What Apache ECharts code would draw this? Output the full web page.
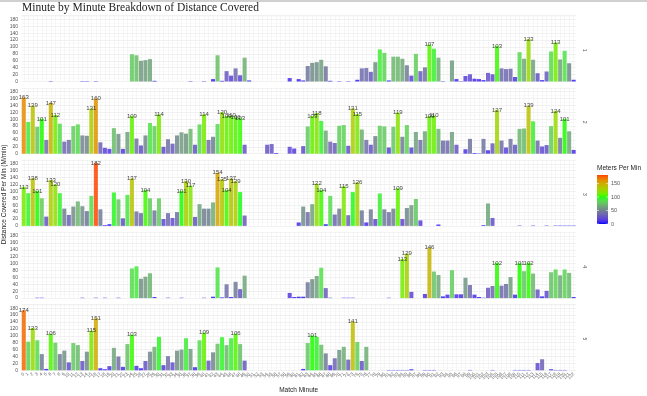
<!DOCTYPE html>
<html><head><meta charset="utf-8">
<script src="https://cdn.jsdelivr.net/npm/echarts@6/dist/echarts.min.js"></script>
<style>html,body{margin:0;padding:0;background:#fff}#c{width:647px;height:396px}</style>
</head><body><div id="c"></div>
<script>
// ---------------- DATA ----------------
const minutes = ['0','1','2','3','4','5','6','7','8','9','10','11','12','13','14','15','16','17','18','19','20','21','22','23','24','25','26','27','28','29','30','31','32','33','34','35','36','37','38','39','40','41','42','43','44','45','46','47','48','49','50','51','52','53','54','55','56','57','58','59','60','61','62','63','64','65','66','67','68','69','70','71','72','73','74','75','76','77','78','79','80','81','82','83','84','85','86','87','88','89','90','91','92','93','94','95','96','97','98','99','100','101','102','103','104','105','106','107','108','109','110','111','112','113','114','115','116','117','118','119','120','121','122'];
const panels = ['1','2','3','4','5'];
const player1 = [0,0,0,0,0,0,1,0,0,0, 0,0,0,1,1,0,1,0,0,0, 0,0,0,0,79,76,60,62,65,2, 0,0,0,0,0,0,0,1,0,0,
  1,0,7,76,2,30,17,38,18,69, 3,0,0,0,0,0,0,0,0,10, 0,7,3,45,54,56,63,44,2,0, 1,0,1,0,5,38,39,28,56,93,
  83,3,72,72,66,47,17,80,30,41, 107,95,69,1,0,61,7,1,16,21, 8,7,4,25,21,103,38,36,37,13, 85,66,123,63,24,4,29,87,113,64, 89,53,5];
const player2 = [163,92,139,78,101,40,147,112,87,35, 40,80,85,53,52,131,160,33,17,14, 74,57,14,63,109,44,24,53,89,80, 114,20,42,29,53,62,58,72,26,85,
  114,40,49,86,120,109,110,106,103,26, 0,0,0,0,26,28,2,0,0,20, 15,0,22,79,109,118,95,67,35,31, 81,83,23,131,115,70,40,26,51,81,
  79,18,78,119,49,83,18,63,40,65, 109,110,72,38,38,63,26,0,13,43, 2,1,43,10,30,127,38,18,43,26, 72,73,139,94,38,21,25,80,124,46, 101,65,11];
const player3 = [113,95,138,101,80,27,133,120,95,50, 32,56,71,57,43,87,182,48,2,5, 97,77,22,90,137,42,37,104,80,45, 80,20,37,23,40,101,130,117,26,63,
  50,50,68,154,135,104,137,129,98,30, 0,0,0,0,0,0,0,0,0,0, 0,10,56,40,63,122,104,5,87,33, 50,115,31,98,126,45,10,48,20,94,
  48,40,50,109,20,52,60,78,16,0, 0,0,4,0,0,0,0,0,0,0, 0,0,2,65,23,0,0,0,0,0, 1,0,0,1,0,0,1,0,1,1, 1,1,1];
const player4 = [0,0,0,1,1,0,0,0,0,0, 0,0,0,1,0,0,1,0,1,0, 0,1,0,0,86,92,56,62,72,3, 0,0,1,0,0,1,0,0,0,0,
  1,0,4,89,2,40,3,47,26,65, 0,0,0,0,0,0,0,0,0,15, 3,4,4,46,55,64,88,29,1,0, 0,1,1,1,0,0,0,0,0,0,
  0,1,0,0,113,129,18,0,0,12, 146,77,67,5,10,81,11,11,59,38, 10,3,1,30,35,102,36,41,61,10, 101,78,102,71,25,5,21,75,83,66, 83,73,3];
const player5 = [174,83,123,87,47,4,106,80,47,57, 23,79,73,27,54,115,151,6,3,12, 65,40,10,76,103,13,6,27,54,68, 97,15,41,23,57,60,93,62,9,87,
  109,28,52,77,96,73,93,106,76,28, 0,0,0,0,0,0,0,0,0,0, 0,0,4,79,101,97,74,49,15,35, 59,68,31,141,82,27,68,0,0,0,
  0,1,1,1,1,1,3,0,0,1, 1,1,0,0,0,0,0,0,0,1, 0,0,0,0,1,0,0,0,0,1, 1,1,1,0,21,32,0,3,1,1, 1,0,0];
const seriesValues = [player1, player2, player3, player4, player5];
const legendTicks = [0, 50, 100, 150];
const labelThreshold = 100;

// ------------- colour scale (Lab interpolation like ggplot) -------------
const fillStops = [0, 50, 100, 150, 182];
const fillColors = ['#0000ff', '#708090', '#00ff00', '#cdad00', '#ff4500'];
function lin(c){c/=255;return c<=0.04045?c/12.92:Math.pow((c+0.055)/1.055,2.4);}
function gam(c){const v=c<=0.0031308?12.92*c:1.055*Math.pow(c,1/2.4)-0.055;return Math.round(Math.max(0,Math.min(1,v))*255);}
function toLab(hex){
  const r=lin(parseInt(hex.substr(1,2),16)),g=lin(parseInt(hex.substr(3,2),16)),b=lin(parseInt(hex.substr(5,2),16));
  const X=(0.4124*r+0.3576*g+0.1805*b)/0.95047,Y=(0.2126*r+0.7152*g+0.0722*b),Z=(0.0193*r+0.1192*g+0.9505*b)/1.08883;
  const f=t=>t>0.008856?Math.cbrt(t):7.787*t+16/116;
  const fx=f(X),fy=f(Y),fz=f(Z);
  return [116*fy-16,500*(fx-fy),200*(fy-fz)];
}
function fromLab(L,a,b){
  const fy=(L+16)/116,fx=fy+a/500,fz=fy-b/200;
  const fi=t=>t*t*t>0.008856?t*t*t:(t-16/116)/7.787;
  const X=fi(fx)*0.95047,Y=fi(fy),Z=fi(fz)*1.08883;
  const R=3.2406*X-1.5372*Y-0.4986*Z,G=-0.9689*X+1.8758*Y+0.0415*Z,B=0.0557*X-0.2040*Y+1.0570*Z;
  return 'rgb('+gam(R)+','+gam(G)+','+gam(B)+')';
}
const labStops = fillColors.map(toLab);
function colorFor(v){
  v=Math.max(fillStops[0],Math.min(fillStops[fillStops.length-1],v));
  let i=0; while(i<fillStops.length-2 && v>fillStops[i+1]) i++;
  const t=(v-fillStops[i])/(fillStops[i+1]-fillStops[i]);
  const A=labStops[i],B=labStops[i+1];
  return fromLab(A[0]+(B[0]-A[0])*t,A[1]+(B[1]-A[1])*t,A[2]+(B[2]-A[2])*t);
}

// ------------- layout -------------
const zero0 = 81.5, pitch = 72.2, ppu = 0.345, yMax = 191;
const gridLeft = 21.5, gridWidth = 554.4;
const sans = 'Liberation Sans, Arial, sans-serif';

const grids = panels.map((p,k)=>({left:gridLeft, width:gridWidth, top: zero0 + k*pitch - yMax*ppu, height: yMax*ppu}));
const xAxes = panels.map((p,k)=>({
  type:'category', gridIndex:k, data:minutes, boundaryGap:true,
  axisLine:{show:false}, axisTick:{show:false},
  splitLine:{show:true, interval:0, alignWithLabel:true, lineStyle:{color:'#ececec', width:0.5}},
  axisLabel: k===panels.length-1 ? {show:true, interval:0, rotate:45, fontSize:4.5, color:'#666', margin:3, fontFamily:sans} : {show:false}
}));
const yAxes = panels.map((p,k)=>({
  type:'value', gridIndex:k, min:0, max:yMax, interval:20,
  axisLine:{show:false}, axisTick:{show:false},
  axisLabel:{fontSize:5, color:'#555', margin:3.5, fontFamily:sans, formatter:v=>v>180?'':String(v)},
  splitLine:{show:true, lineStyle:{color:'#e8e8e8', width:0.6}},
  minorTick:{show:false, splitNumber:2},
  minorSplitLine:{show:true, lineStyle:{color:'#f4f4f4', width:0.5}}
}));
const series = seriesValues.map((vals,k)=>({
  type:'bar', xAxisIndex:k, yAxisIndex:k, data:vals, barCategoryGap:'10%',
  itemStyle:{color:p=>colorFor(p.value), opacity:0.85},
  label:{show:true, position:'top', distance:-3, fontSize:6, color:'#222', fontFamily:sans,
    formatter:p=>p.value>labelThreshold?String(p.value):''},
  emphasis:{disabled:true}, animation:false
}));

// legend graphic
const barTop = 175, barBottom = 224, legMax = 182;
const gradStops = [];
for (let v=0; v<=legMax; v+=7) gradStops.push({offset:1-v/legMax, color:colorFor(v)});
gradStops.push({offset:0, color:colorFor(legMax)});
gradStops.sort((a,b)=>a.offset-b.offset);
const graphics = [
  {type:'line', shape:{x1:0,y1:1,x2:647,y2:1}, style:{stroke:'#d0d0d0', lineWidth:2}},
  {type:'text', x:22, y:7.5, style:{text:'Minute by Minute Breakdown of Distance Covered', font:'11.5px "Liberation Serif", "DejaVu Serif", serif', fill:'#222', verticalAlign:'middle'}},
  {type:'text', x:4, y:194.5, rotation:Math.PI/2, style:{text:'Distance Covered Per Min (M/min)', font:'6.5px '+sans, fill:'#222', align:'center', verticalAlign:'middle'}},
  {type:'text', x:298.7, y:390, style:{text:'Match Minute', font:'6.5px '+sans, fill:'#222', align:'center', verticalAlign:'middle'}},
  {type:'text', x:597, y:168, style:{text:'Meters Per Min', font:'6.5px '+sans, fill:'#222', verticalAlign:'middle'}},
  {type:'rect', shape:{x:597, y:barTop, width:11, height:barBottom-barTop}, style:{fill:new echarts.graphic.LinearGradient(0,0,0,1,gradStops)}}
];
legendTicks.forEach(v=>{
  const y = barBottom - v/legMax*(barBottom-barTop);
  graphics.push({type:'text', x:611, y:y, style:{text:String(v), font:'5.5px '+sans, fill:'#555', verticalAlign:'middle'}});
  graphics.push({type:'line', shape:{x1:597,y1:y,x2:599,y2:y}, style:{stroke:'#fff', lineWidth:0.6}});
  graphics.push({type:'line', shape:{x1:606,y1:y,x2:608,y2:y}, style:{stroke:'#fff', lineWidth:0.6}});
});
panels.forEach((p,k)=>{
  const cy = zero0 + k*pitch - yMax*ppu/2 + 1.5;
  graphics.push({type:'text', x:584, y:cy, rotation:-Math.PI/2, style:{text:p, font:'5px '+sans, fill:'#555', align:'center', verticalAlign:'middle'}});
});

const chart = echarts.init(document.getElementById('c'), null, {renderer:'canvas'});
chart.setOption({
  animation:false,
  grid:grids, xAxis:xAxes, yAxis:yAxes, series:series, graphic:graphics
});
</script></body></html>
